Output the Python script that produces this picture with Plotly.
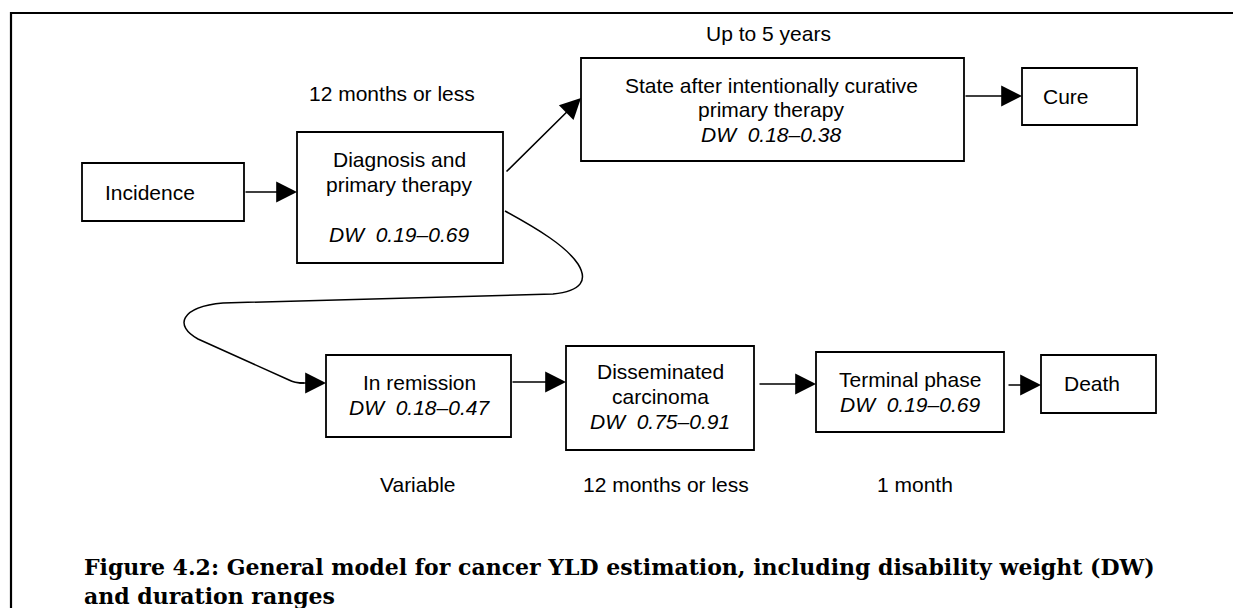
import plotly.graph_objects as go

# model stages, disability weights and durations
stages = ["Incidence", "Diagnosis and primary therapy",
          "State after intentionally curative primary therapy", "Cure",
          "In remission", "Disseminated carcinoma", "Terminal phase", "Death"]
dw_ranges = ["", "0.19–0.69", "0.18–0.38", "", "0.18–0.47", "0.75–0.91", "0.19–0.69", ""]
durations = ["12 months or less", "Up to 5 years", "Variable", "12 months or less", "1 month"]
caption = ["Figure 4.2: General model for cancer YLD estimation, including disability weight (DW)",
           "and duration ranges"]

# box geometry (x0, x1, y0, y1) in pixel space
boxes = [(74, 236, 155, 213), (289, 495, 124, 255), (573, 956, 50, 153), (1014, 1129, 60, 117),
         (318, 503, 347, 429), (558, 746, 338, 442), (808, 996, 344, 424), (1033, 1148, 347, 405)]
# how each stage label is split into lines: (lines, line y positions, x, anchor, dw y)
label_lines = [
    (["Incidence"], [184], 95, "left", None),
    (["Diagnosis and", "primary therapy"], [151, 176], 391, "center", 226),
    (["State after intentionally curative", "primary therapy"], [77, 101], 763, "center", 126),
    (["Cure"], [88], 1033, "left", None),
    (["In remission"], [374], 411, "center", 399),
    (["Disseminated", "carcinoma"], [363, 388], 652, "center", 413),
    (["Terminal phase"], [371], 902, "center", 396),
    (["Death"], [375], 1054, "left", None),
]
duration_pos = [(384, 85), (760, 25), (410, 476), (658, 476), (907, 476)]
arrows = [((236, 184), (289, 184)), ((497, 165), (573, 90)), ((956, 88), (1014, 88)),
          ((503, 374), (558, 374)), ((750, 376), (808, 376)), ((999, 377), (1033, 377)),
          ((290, 375), (318, 375))]

W, H = 1241, 608
sans = "Liberation Sans, Arial, sans-serif"
fig = go.Figure()
fig.add_trace(go.Scatter(x=[0, W], y=[0, H], mode="markers", marker=dict(opacity=0),
                         hoverinfo="skip", showlegend=False))

shapes = []
# outer frame (open at the bottom)
shapes.append(dict(type="path", path=f"M 3,{H+5} L 3,5 L 1238,5 L 1238,{H+5}",
                   line=dict(color="black", width=2.2)))
for x0, x1, y0, y1 in boxes:
    shapes.append(dict(type="rect", x0=x0, x1=x1, y0=y0, y1=y1,
                       line=dict(color="black", width=1.8), fillcolor="white"))
# curved path from diagnosis down to remission
shapes.append(dict(type="path",
                   path="M 497,203 C 530,221 558,238 570,256 C 580,272 574,283 545,286 "
                        "L 215,295 C 172,299 166,318 190,331 L 281,372 Q 286,375 296,375",
                   line=dict(color="black", width=1.5)))

annotations = []
for i, (lines, ys, x, anchor, dwy) in enumerate(label_lines):
    for txt, y in zip(lines, ys):
        annotations.append(dict(x=x, y=y, text=txt, showarrow=False, xanchor=anchor,
                                yanchor="middle", font=dict(family=sans, size=21, color="black")))
    if dwy is not None:
        annotations.append(dict(x=x, y=dwy, text="<i>DW\u00a0 " + dw_ranges[i] + "</i>",
                                showarrow=False, xanchor="center", yanchor="middle",
                                font=dict(family=sans, size=21, color="black")))
for txt, (x, y) in zip(durations, duration_pos):
    annotations.append(dict(x=x, y=y, text=txt, showarrow=False, xanchor="center",
                            yanchor="middle", font=dict(family=sans, size=21, color="black")))
for (tx, ty), (hx, hy) in arrows:
    annotations.append(dict(x=hx, y=hy, ax=tx, ay=ty, xref="x", yref="y", axref="x", ayref="y",
                            text="", showarrow=True, arrowhead=2, arrowsize=2.6, arrowwidth=1.6,
                            arrowcolor="black", standoff=0))
for txt, y in zip(caption, [559, 588]):
    annotations.append(dict(x=74, y=y, text="<b>" + txt + "</b>", showarrow=False, xanchor="left",
                            yanchor="middle",
                            font=dict(family="DejaVu Serif, serif", size=22, color="black")))

fig.update_layout(width=W, height=H, margin=dict(l=0, r=0, t=0, b=0),
                  paper_bgcolor="white", plot_bgcolor="white",
                  xaxis=dict(range=[0, W], visible=False, fixedrange=True),
                  yaxis=dict(range=[H, 0], visible=False, fixedrange=True),
                  shapes=shapes, annotations=annotations, showlegend=False)
fig.write_html("out.html")
